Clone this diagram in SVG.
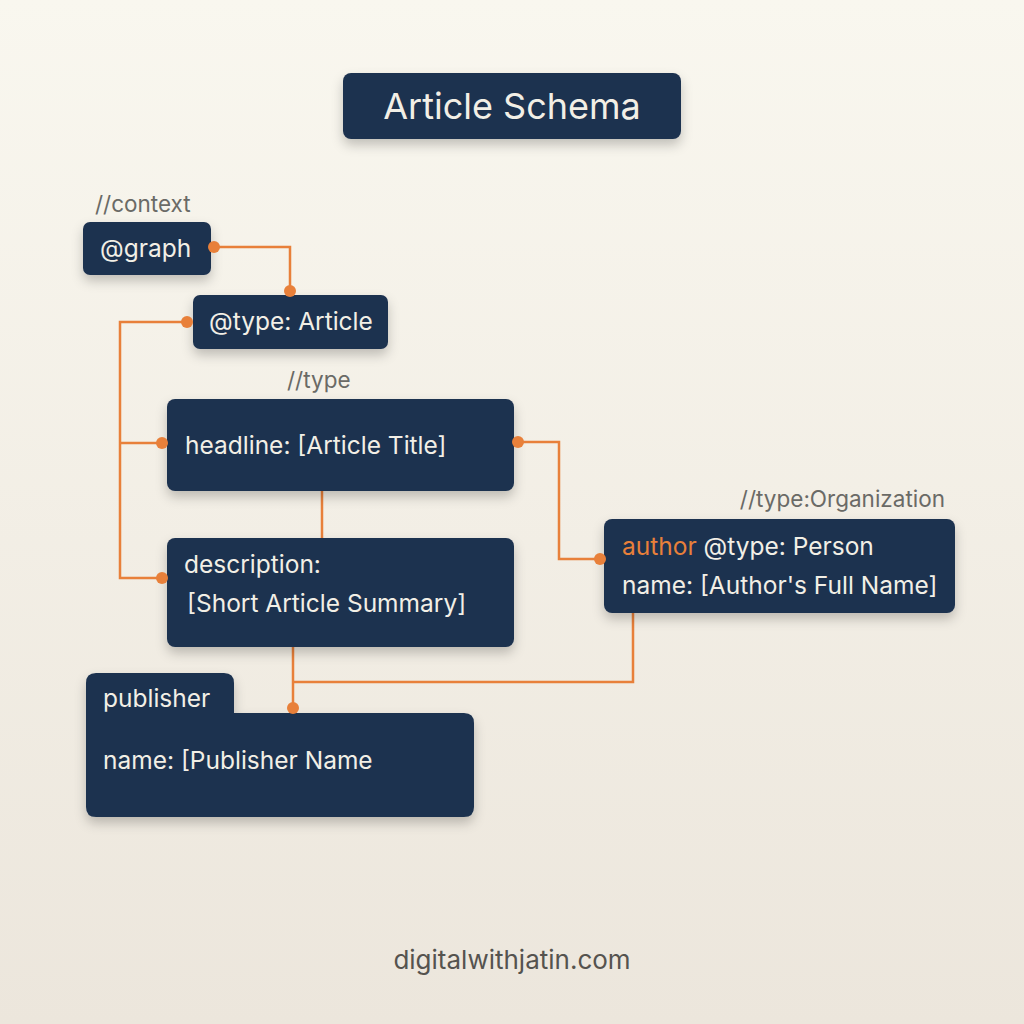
<svg xmlns="http://www.w3.org/2000/svg" width="1024" height="1024" viewBox="0 0 1024 1024">
<defs>
<linearGradient id="bg" x1="0" y1="0" x2="0" y2="1">
<stop offset="0" stop-color="#f9f7ef"/>
<stop offset="1" stop-color="#ece6dc"/>
</linearGradient>
<filter id="sh" x="-20%" y="-30%" width="140%" height="170%">
<feDropShadow dx="0" dy="6" stdDeviation="6" flood-color="#000" flood-opacity="0.22"/>
</filter>
</defs>
<style>
.box{fill:#1e3350;filter:url(#sh)}
.t{font-family:Inter,"Noto Sans","DejaVu Sans",sans-serif;fill:#f2efe6;font-size:24.5px}
.c{font-family:Inter,"Noto Sans","DejaVu Sans",sans-serif;fill:#6a6a66;font-size:22.5px}
.ln{fill:none;stroke:#e8803a;stroke-width:2.5}
.dot{fill:#e8803a}
</style>
<rect width="1024" height="1024" fill="url(#bg)"/>
<g id="connectors">
<polyline class="ln" points="214,247 290,247 290,291"/>
<polyline class="ln" points="187,322 120,322 120,578 162,578"/>
<line class="ln" x1="120" y1="443" x2="162" y2="443"/>
<polyline class="ln" points="518,442 559,442 559,559 600,559"/>
<line class="ln" x1="322" y1="491" x2="322" y2="538"/>
<line class="ln" x1="293" y1="647" x2="293" y2="708"/>
<polyline class="ln" points="293,682 633,682 633,613"/>
</g>
<g id="title">
<rect class="box" x="343" y="73" width="338" height="66" rx="8"/>
<text class="t" x="512" y="119" text-anchor="middle" style="font-size:36px">Article Schema</text>
</g>
<g id="context-label"><text class="c" x="95" y="212">//context</text></g>
<g id="graph">
<rect class="box" x="83" y="222" width="128" height="53" rx="7"/>
<text class="t" x="100" y="257">@graph</text>
</g>
<g id="type-article">
<rect class="box" x="193" y="295" width="195" height="54" rx="7"/>
<text class="t" x="209" y="330">@type: Article</text>
</g>
<g id="type-label"><text class="c" x="287" y="388">//type</text></g>
<g id="headline">
<rect class="box" x="167" y="399" width="347" height="92" rx="8"/>
<text class="t" x="185" y="454">headline: [Article Title]</text>
</g>
<g id="description">
<rect class="box" x="167" y="538" width="347" height="109" rx="8"/>
<text class="t" x="184" y="573">description:</text>
<text class="t" x="187" y="612">[Short Article Summary]</text>
</g>
<g id="org-label"><text class="c" x="945" y="507" text-anchor="end">//type:Organization</text></g>
<g id="author">
<rect class="box" x="604" y="519" width="351" height="94" rx="8"/>
<text class="t" x="622" y="555"><tspan fill="#e8803a">author</tspan> @type: Person</text>
<text class="t" x="622" y="594">name: [Author's Full Name]</text>
</g>
<g id="publisher">
<path class="box" d="M86,683 Q86,673 96,673 L224,673 Q234,673 234,683 L234,713 L464,713 Q474,713 474,723 L474,807 Q474,817 464,817 L96,817 Q86,817 86,807 Z"/>
<text class="t" x="103" y="707">publisher</text>
<text class="t" x="103" y="769">name: [Publisher Name</text>
</g>
<g id="dots">
<circle class="dot" cx="214" cy="247" r="6"/>
<circle class="dot" cx="290" cy="291" r="6"/>
<circle class="dot" cx="187" cy="322" r="6"/>
<circle class="dot" cx="162" cy="443" r="6"/>
<circle class="dot" cx="162" cy="578" r="6"/>
<circle class="dot" cx="518" cy="442" r="6"/>
<circle class="dot" cx="600" cy="559" r="6"/>
<circle class="dot" cx="293" cy="708" r="6"/>
</g>
<g id="footer"><text x="512" y="969" text-anchor="middle" font-family="Inter,'Noto Sans',sans-serif" font-size="26" fill="#55534f">digitalwithjatin.com</text></g>
</svg>
